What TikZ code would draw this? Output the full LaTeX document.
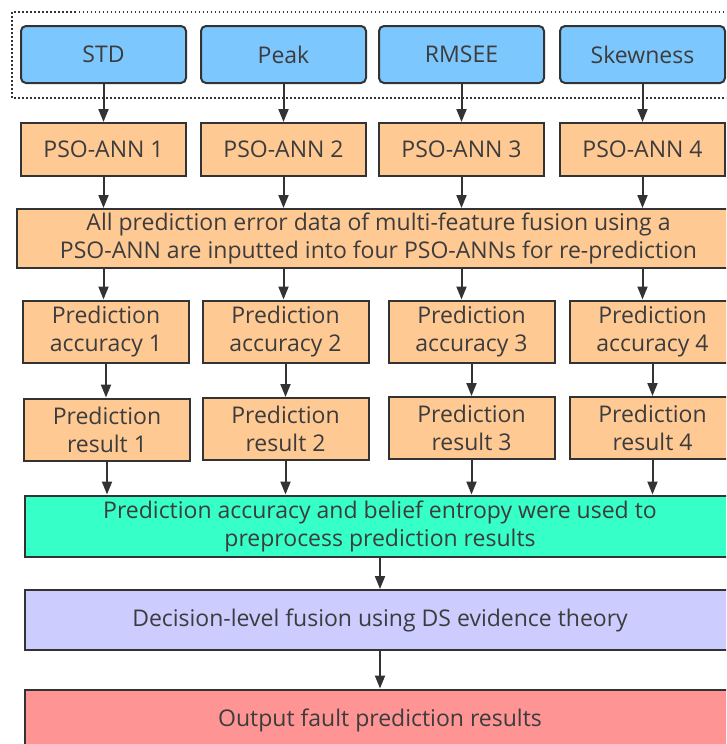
\documentclass[tikz,border=0pt]{standalone}
\usepackage{fontspec}
\setmainfont{Open Sans}
\usetikzlibrary{arrows.meta}
\definecolor{featblue}{RGB}{125,199,255}
\definecolor{annorange}{RGB}{255,201,148}
\definecolor{pregreen}{RGB}{54,255,200}
\definecolor{dspurple}{RGB}{204,204,255}
\definecolor{outred}{RGB}{255,148,148}
\definecolor{linegray}{RGB}{51,51,51}
\definecolor{textgray}{RGB}{60,60,60}
\begin{document}
\begin{tikzpicture}[x=1pt,y=-1pt,line width=2pt,
  box/.style={draw=linegray,text=textgray,align=center,inner sep=0pt,
    font=\fontsize{23}{28}\selectfont},
  feat/.style={box,fill=featblue,rounded corners=5pt,minimum width=165pt,minimum height=57pt},
  ann/.style={box,fill=annorange,minimum width=165pt,minimum height=53pt},
  step2/.style={box,fill=annorange,minimum width=166pt,minimum height=62pt},
  wide/.style={box,minimum width=710pt,minimum height=61pt},
  arr/.style={draw=linegray,-{Triangle[width=10pt,length=13pt]}}]
\clip (0,0) rectangle (726,744);
\draw[linegray,line width=1.5pt,dash pattern=on 1.5pt off 2.5pt] (12,12) rectangle (740,98);
\node[feat] (std) at (103.5,54.5) {STD};
\node[feat] (peak) at (283.5,54.5) {Peak};
\node[feat] (rmsee) at (461.5,54.5) {RMSEE};
\node[feat] (skew) at (642.5,54.5) {Skewness};
\node[ann] (ann1) at (103.5,149.5) {PSO-ANN 1};
\node[ann] (ann2) at (283.5,149.5) {PSO-ANN 2};
\node[ann] (ann3) at (461.5,149.5) {PSO-ANN 3};
\node[ann] (ann4) at (642.5,149.5) {PSO-ANN 4};
\node[box,fill=annorange,minimum width=723pt,minimum height=59pt] (fuse) at (378.5,238.5)
  {All prediction error data of multi-feature fusion using a\\PSO-ANN are inputted into four PSO-ANNs for re-prediction};
\node[step2] (acc1) at (106,331.5) {Prediction\\accuracy 1};
\node[step2] (acc2) at (285.5,331.5) {Prediction\\accuracy 2};
\node[step2] (acc3) at (471.5,331.5) {Prediction\\accuracy 3};
\node[step2] (acc4) at (652.5,331.5) {Prediction\\accuracy 4};
\node[step2] (res1) at (107,429.5) {Prediction\\result 1};
\node[step2] (res2) at (285.5,429) {Prediction\\result 2};
\node[step2] (res3) at (471.5,428) {Prediction\\result 3};
\node[step2] (res4) at (652.5,428) {Prediction\\result 4};
\node[wide,fill=pregreen] (pre) at (380,526)
  {Prediction accuracy and belief entropy were used to\\preprocess prediction results};
\node[wide,fill=dspurple,minimum height=60pt] (ds) at (380,620) {Decision-level fusion using DS evidence theory};
\node[wide,fill=outred] (out) at (380,720) {Output fault prediction results};
\draw[arr] (std) -- (ann1);
\draw[arr] (peak) -- (ann2);
\draw[arr] (rmsee) -- (ann3);
\draw[arr] (skew) -- (ann4);
\draw[arr] (ann1) -- (ann1 |- fuse.north);
\draw[arr] (ann2) -- (ann2 |- fuse.north);
\draw[arr] (ann3) -- (ann3 |- fuse.north);
\draw[arr] (ann4) -- (ann4 |- fuse.north);
\draw[arr] (fuse.south -| ann1) -- (ann1 |- acc1.north);
\draw[arr] (fuse.south -| ann2) -- (ann2 |- acc2.north);
\draw[arr] (fuse.south -| ann3) -- (ann3 |- acc3.north);
\draw[arr] (fuse.south -| ann4) -- (ann4 |- acc4.north);
\draw[arr] (acc1) -- (acc1 |- res1.north);
\draw[arr] (acc2) -- (acc2 |- res2.north);
\draw[arr] (acc3) -- (acc3 |- res3.north);
\draw[arr] (acc4) -- (acc4 |- res4.north);
\draw[arr] (res1) -- (res1 |- pre.north);
\draw[arr] (res2) -- (res2 |- pre.north);
\draw[arr] (res3) -- (res3 |- pre.north);
\draw[arr] (res4) -- (res4 |- pre.north);
\draw[arr] (pre) -- (ds);
\draw[arr] (ds) -- (out);
\end{tikzpicture}
\end{document}
